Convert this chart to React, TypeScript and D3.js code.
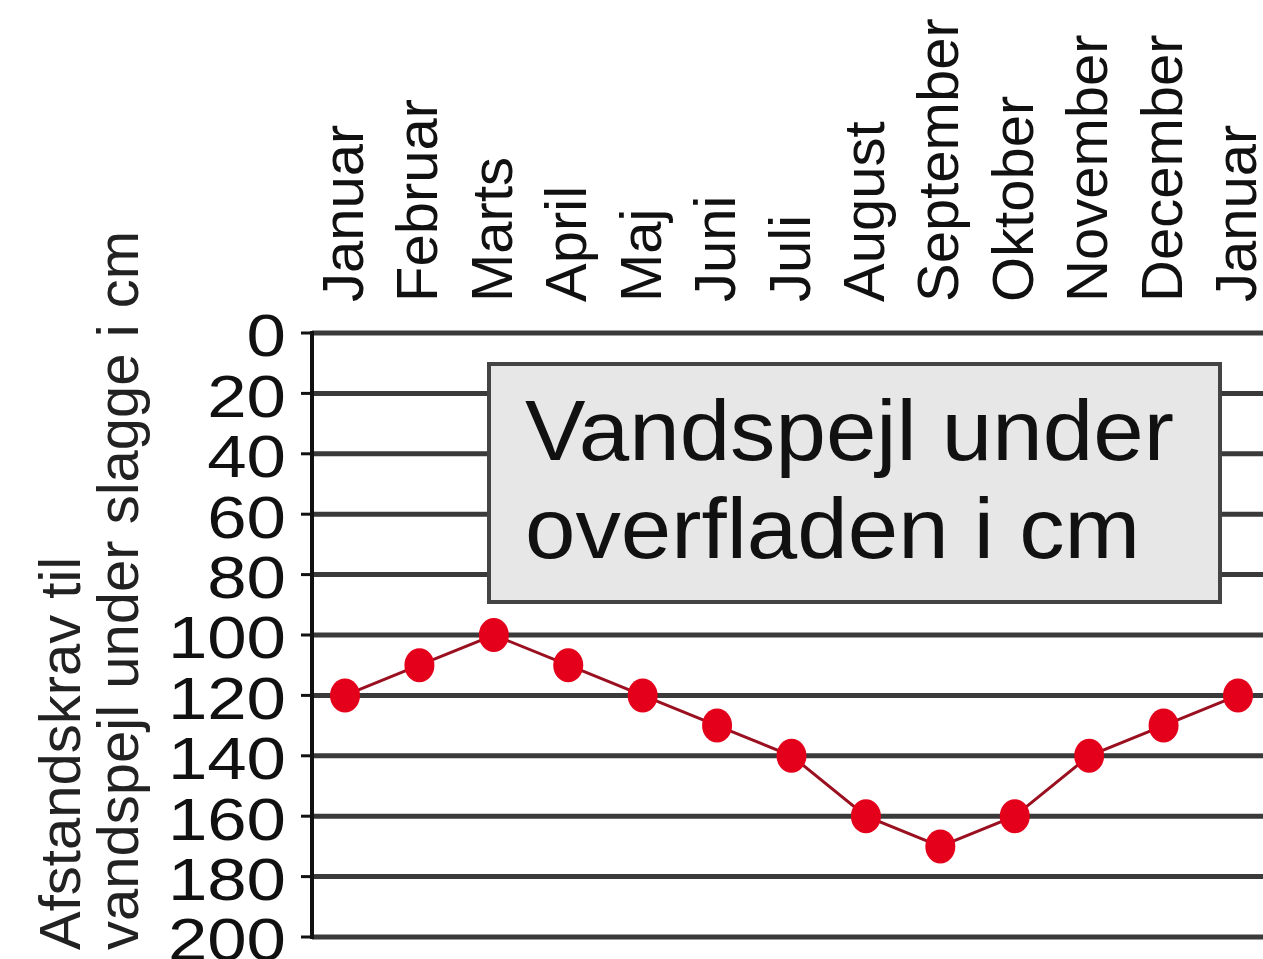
import React from "react";
import * as d3 from "d3";

// months along the top (the year wraps back to Januar)
const months = ["Januar", "Februar", "Marts", "April", "Maj", "Juni", "Juli", "August",
  "September", "Oktober", "November", "December", "Januar"];
// water level below slag, cm
const levels = [120, 110, 100, 110, 120, 130, 140, 160, 170, 160, 140, 130, 120];
const yTicks = [0, 20, 40, 60, 80, 100, 120, 140, 160, 180, 200];
const yTitle = ["Afstandskrav til", "vandspejl under slagge i cm"];
const boxTitle = ["Vandspejl under", "overfladen i cm"];

const W = 1263, H = 959;
const plot = { left: 312, top: 333, bottom: 937, right: 1290 };
const font = "'Liberation Sans', Arial, sans-serif";

export default function App() {
  const x = d3.scalePoint<number>().domain(months.map((_, i) => i)).range([345, 1238]);
  const y = d3.scaleLinear().domain([0, 200]).range([plot.top, plot.bottom]);
  const line = d3.line<number>().x((_, i) => x(i)!).y(d => y(d));

  return (
    <svg width={W} height={H} style={{ position: "absolute", left: 0, top: 0, background: "#fff" }}
      fontFamily={font}>
      {/* gridlines + left ticks */}
      {yTicks.map(t => (
        <g key={t}>
          <line x1={plot.left} x2={plot.right} y1={y(t)} y2={y(t)} stroke="#3a3a3a" strokeWidth={5} />
          <line x1={plot.left - 11} x2={plot.left} y1={y(t)} y2={y(t)} stroke="#111" strokeWidth={3} />
          <text transform={`translate(286,${y(t) + 3}) scale(1.2,1)`} textAnchor="end"
            dominantBaseline="central" fontSize={59} fill="#111">{t}</text>
        </g>
      ))}
      <line x1={plot.left} x2={plot.left} y1={plot.top - 2} y2={plot.bottom + 2} stroke="#111" strokeWidth={4} />

      {/* month labels */}
      {months.map((m, i) => (
        <text key={i} transform={`translate(${x(i)! + 18},302) rotate(-90)`} fontSize={58} fill="#111">{m}</text>
      ))}

      {/* y axis title */}
      {yTitle.map((s, i) => (
        <text key={i} transform={`translate(${80 + i * 58},950) rotate(-90)`} fontSize={58} fill="#222">{s}</text>
      ))}

      {/* title box */}
      <rect x={489} y={364} width={731} height={238} fill="#e7e7e7" stroke="#444" strokeWidth={4} />
      {boxTitle.map((s, i) => (
        <text key={i} transform={`translate(525,${460 + i * 98}) scale(1.055,1)`} fontSize={86} fill="#111">{s}</text>
      ))}

      {/* series */}
      <path d={line(levels)!} fill="none" stroke="#9a1020" strokeWidth={3} />
      {levels.map((v, i) => (
        <ellipse key={i} cx={x(i)} cy={y(v)} rx={15} ry={17} fill="#e4001b" />
      ))}
    </svg>
  );
}
